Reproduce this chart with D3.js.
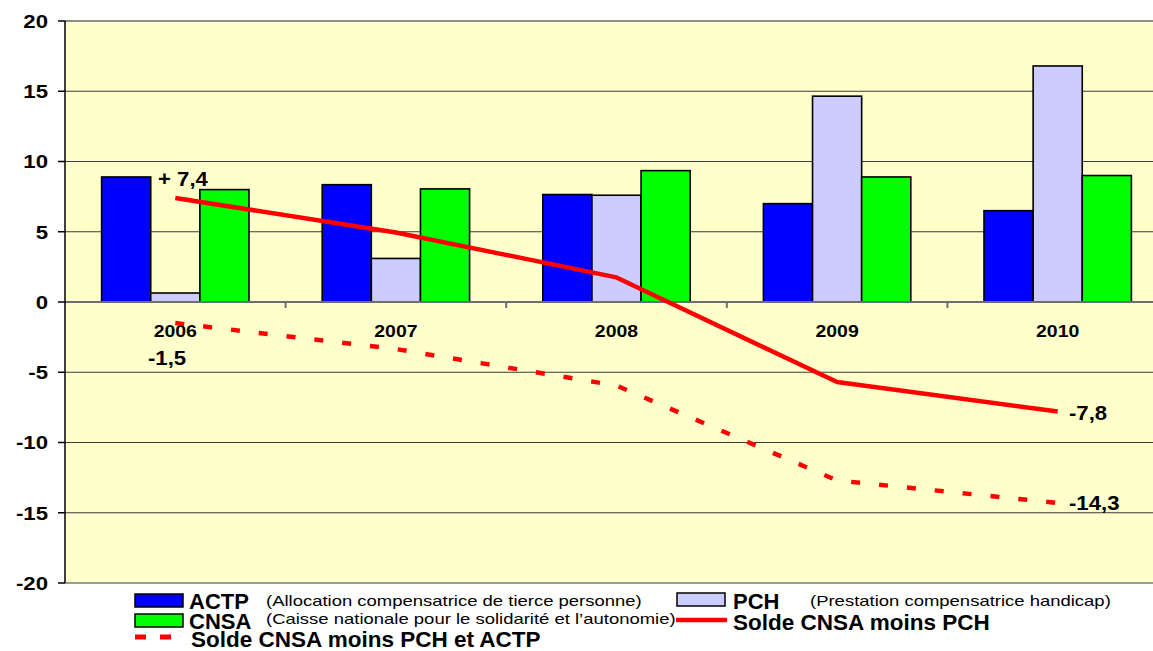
<!DOCTYPE html>
<html>
<head>
<meta charset="utf-8">
<script src="https://cdn.jsdelivr.net/npm/d3@7"></script>
<style>
body { margin: 0; background: #fff; }
text { font-family: Arial, "Liberation Sans", sans-serif; }
</style>
</head>
<body>
<div class="container"></div>
<script>
const wd = 1153
const ht = 651

// data
const years = ["2006", "2007", "2008", "2009", "2010"]
const actp = [8.9, 8.35, 7.65, 7.0, 6.5]
const pch = [0.64, 3.1, 7.6, 14.65, 16.8]
const cnsa = [8.0, 8.05, 9.35, 8.9, 9.0]
const soldePch = [7.4, 4.95, 1.75, -5.7, -7.8]
const soldeTotal = [-1.5, -3.35, -5.95, -12.7, -14.3]
const yTicks = [-20, -15, -10, -5, 0, 5, 10, 15, 20]

const series = ["ACTP", "PCH", "CNSA"]
const colors = { ACTP: "#0000ff", PCH: "#ccccff", CNSA: "#00ff00" }
const values = { ACTP: actp, PCH: pch, CNSA: cnsa }

const svgC = d3.select(".container")
.append("svg")
.attr("width", wd)
.attr("height", ht)

// plot runs past the right edge in the picture
const pLeft = 65, pRight = 1168, pTop = 21, pBottom = 583

const x0 = d3.scaleBand().domain(years).range([pLeft, pRight])
const x1 = d3.scaleBand().domain(series).range([0, x0.bandwidth()]).paddingOuter(0.745)
const y = d3.scaleLinear().domain([-20, 20]).range([pBottom, pTop])
const cx = d => x0(d) + x0.bandwidth() / 2

// sx: some texts in the picture are stretched sideways
function label(g, txt, x, yy, size, weight, anchor, sx) {
    return g.append("text")
    .attr("transform", `translate(${x},${yy}) scale(${sx || 1},1)`)
    .attr("text-anchor", anchor || "start")
    .style("font-size", size + "px")
    .style("font-weight", weight || "normal")
    .attr("fill", "#000")
    .text(txt)
}

// plot background
svgC.append("rect")
.attr("x", pLeft).attr("y", pTop)
.attr("width", pRight - pLeft).attr("height", pBottom - pTop)
.attr("fill", "#ffffcc")

// gridlines
svgC.append("g")
.selectAll("line")
.data(yTicks.filter(d => d != 0 && d != -20 && d != 20))
.enter()
.append("line")
.attr("x1", pLeft).attr("x2", pRight)
.attr("y1", d => y(d)).attr("y2", d => y(d))
.style("stroke", "#3a3a3a")
.style("stroke-width", "1.2px")

// frame top and bottom
svgC.append("line").attr("x1", pLeft).attr("x2", pRight).attr("y1", pTop).attr("y2", pTop)
.style("stroke", "#8c8c8c").style("stroke-width", "2px")
svgC.append("line").attr("x1", pLeft).attr("x2", pRight).attr("y1", pBottom).attr("y2", pBottom)
.style("stroke", "#9a9a9a").style("stroke-width", "2px")

// bars
const groups = svgC.append("g")
.selectAll("g")
.data(years)
.enter()
.append("g")
.attr("transform", d => `translate(${x0(d)},0)`)

groups.selectAll("rect")
.data((d, i) => series.map(s => ({ s: s, v: values[s][i] })))
.enter()
.append("rect")
.attr("x", d => x1(d.s))
.attr("width", x1.bandwidth())
.attr("y", d => y(Math.max(0, d.v)))
.attr("height", d => Math.abs(y(d.v) - y(0)))
.attr("fill", d => colors[d.s])
.style("stroke", "#000")
.style("stroke-width", "1.6px")

// zero line (category axis) with ticks between groups
svgC.append("line").attr("x1", pLeft).attr("x2", pRight).attr("y1", y(0)).attr("y2", y(0))
.style("stroke", "#6e6e6e").style("stroke-width", "2px")
svgC.append("g")
.selectAll("line")
.data(years.slice(1))
.enter()
.append("line")
.attr("x1", d => x0(d)).attr("x2", d => x0(d))
.attr("y1", y(0)).attr("y2", y(0) + 6)
.style("stroke", "#6e6e6e").style("stroke-width", "2px")

// year labels
const xl = svgC.append("g")
years.forEach(d => label(xl, d, cx(d), 337, 16.5, "bold", "middle", 1.18))

// lines
const lineFunc = d3.line()
.x((d, i) => cx(years[i]))
.y(d => y(d))

svgC.append("path")
.attr("d", lineFunc(soldePch))
.attr("fill", "none")
.style("stroke", "#ff0000")
.style("stroke-width", "4.5px")
.style("stroke-linejoin", "round")

svgC.append("path")
.attr("d", lineFunc(soldeTotal))
.attr("fill", "none")
.style("stroke", "#ff0000")
.style("stroke-width", "4.5px")
.style("stroke-dasharray", "9,19")

// data labels
const dl = svgC.append("g")
label(dl, "+ 7,4", 158, 186, 20.5, "bold", "start", 1.08)
label(dl, "-1,5", 148, 365, 20.5, "bold", "start", 1.08)
label(dl, "-7,8", 1069, 420, 20.5, "bold", "start", 1.08)
label(dl, "-14,3", 1069, 510, 20.5, "bold", "start", 1.08)

// y axis
svgC.append("line").attr("x1", pLeft).attr("x2", pLeft).attr("y1", pTop).attr("y2", pBottom)
.style("stroke", "#000").style("stroke-width", "1.5px")
const ya = svgC.append("g")
yTicks.forEach(t => {
    ya.append("line")
    .attr("x1", pLeft - 7).attr("x2", pLeft)
    .attr("y1", y(t)).attr("y2", y(t))
    .style("stroke", "#000").style("stroke-width", "1.5px")
    label(ya, String(t), 48, y(t) + 6.8, 18.8, "bold", "end", 1.18)
})

// legend
const lg = svgC.append("g")
lg.append("rect").attr("x", 135).attr("y", 594).attr("width", 48).attr("height", 13)
.attr("fill", colors.ACTP).style("stroke", "#000").style("stroke-width", "1.5px")
lg.append("rect").attr("x", 135).attr("y", 614).attr("width", 48).attr("height", 13)
.attr("fill", colors.CNSA).style("stroke", "#000").style("stroke-width", "1.5px")
lg.append("rect").attr("x", 677).attr("y", 593).attr("width", 48).attr("height", 13)
.attr("fill", colors.PCH).style("stroke", "#000").style("stroke-width", "1.5px")
lg.append("line").attr("x1", 676).attr("x2", 727).attr("y1", 620).attr("y2", 620)
.style("stroke", "#ff0000").style("stroke-width", "4.5px")
lg.append("line").attr("x1", 135).attr("x2", 175).attr("y1", 637).attr("y2", 637)
.style("stroke", "#ff0000").style("stroke-width", "5px")
.style("stroke-dasharray", "11,14")

label(lg, "ACTP", 189, 609, 22, "bold")
label(lg, "(Allocation compensatrice de tierce personne)", 266, 606, 15.4, "normal", "start", 1.2)
label(lg, "CNSA", 189, 629, 22, "bold")
label(lg, "(Caisse nationale pour le solidarité et l’autonomie)", 266, 624, 15.4, "normal", "start", 1.2)
label(lg, "PCH", 733, 609, 22, "bold")
label(lg, "(Prestation compensatrice handicap)", 810, 606, 15.4, "normal", "start", 1.2)
label(lg, "Solde CNSA moins PCH", 733, 630, 22.5, "bold")
label(lg, "Solde CNSA moins PCH et ACTP", 191, 647, 22.5, "bold")
</script>
</body>
</html>
